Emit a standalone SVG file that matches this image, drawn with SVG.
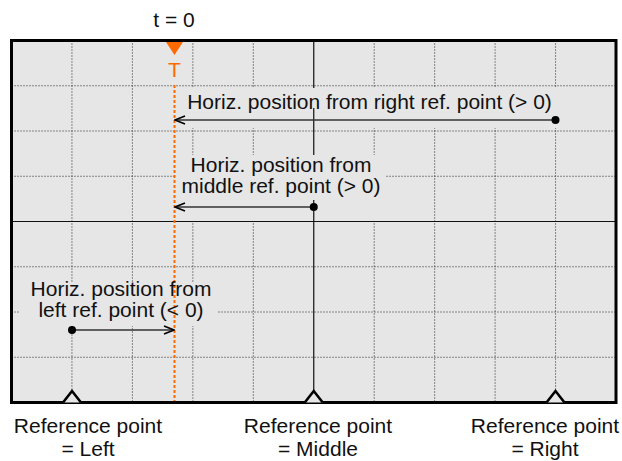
<svg xmlns="http://www.w3.org/2000/svg" width="622" height="461" viewBox="0 0 622 461">
<style>
.t{font-family:"Liberation Sans",Arial,sans-serif;font-size:21px;fill:#111;text-anchor:middle}
.grid{stroke:#222;stroke-width:1;stroke-dasharray:1 2;fill:none}
.axis{stroke:#111;stroke-width:1.2;fill:none}
.bg{fill:#e6e6e6}
.arr{stroke:#333;stroke-width:1.4;fill:none}
.ref{stroke:#000;stroke-width:2.6;fill:#e6e6e6;stroke-linejoin:miter}
</style>
<defs>
<marker id="ah" viewBox="0 0 12 10" refX="11" refY="5" markerWidth="12" markerHeight="10" markerUnits="userSpaceOnUse" orient="auto">
<path d="M1,1 L11,5 L1,9" stroke="#000" stroke-width="1.6" fill="none"/>
</marker>
</defs>
<rect x="11.5" y="40.5" width="604.5" height="362" class="bg"/>
<g id="grid">
<path class="grid" d="M71.95,40.5V402.5M132.4,40.5V402.5M192.85,40.5V402.5M253.3,40.5V402.5M374.2,40.5V402.5M434.65,40.5V402.5M495.1,40.5V402.5M555.55,40.5V402.5"/>
<path class="grid" d="M11.5,85.75H616M11.5,131H616M11.5,176.25H616M11.5,266.75H616M11.5,312H616M11.5,357.25H616"/>
</g>
<g id="label-boxes">
<rect class="bg" x="177" y="88" width="385" height="40"/>
<rect class="bg" x="176" y="155" width="209" height="66"/>
<rect class="bg" x="20" y="282" width="197" height="44"/>
</g>
<g id="axes">
<path class="axis" d="M313.75,40.5V402.5M11.5,221.5H616"/>
</g>
<g id="text-boxes">
<rect class="bg" x="182" y="88" width="376" height="20"/>
<rect class="bg" x="178" y="155" width="206" height="45"/>
</g>
<g id="trigger">
<path d="M174.5,85V402" stroke="#FF6A00" stroke-width="2" stroke-dasharray="3 2" fill="none"/>
<path d="M165,40.5H184L174.5,55Z" fill="#FF6A00"/>
<text class="t" x="174.5" y="77" style="fill:#FF6A00">T</text>
<text class="t" x="174" y="27">t = 0</text>
</g>
<g id="connectors">
<path class="arr" d="M555.5,120H175" marker-end="url(#ah)"/>
<path class="arr" d="M313.75,207H175" marker-end="url(#ah)"/>
<path class="arr" d="M72,330H174" marker-end="url(#ah)"/>
<circle cx="555.5" cy="120" r="4" fill="#000"/>
<circle cx="313.75" cy="207" r="4" fill="#000"/>
<circle cx="72" cy="330" r="4" fill="#000"/>
</g>
<g id="label-right">
<text class="t" x="369.5" y="109">Horiz. position from right ref. point (&gt; 0)</text>
</g>
<g id="label-middle">
<text class="t" x="281" y="172">Horiz. position from</text>
<text class="t" x="281" y="193">middle ref. point (&gt; 0)</text>
</g>
<g id="label-left">
<text class="t" x="121" y="296">Horiz. position from</text>
<text class="t" x="121" y="317">left ref. point (&lt; 0)</text>
</g>
<rect x="11.5" y="40.5" width="604.5" height="362" fill="none" stroke="#000" stroke-width="3"/>
<g id="ref-left">
<path class="ref" d="M63,402.5L72,391L81,402.5"/>
<text class="t" x="88" y="433">Reference point</text>
<text class="t" x="88" y="456">= Left</text>
</g>
<g id="ref-middle">
<path class="ref" d="M304.75,402.5L313.75,391L322.75,402.5"/>
<text class="t" x="318" y="433">Reference point</text>
<text class="t" x="318" y="456">= Middle</text>
</g>
<g id="ref-right">
<path class="ref" d="M546.5,402.5L555.5,391L564.5,402.5"/>
<text class="t" x="545" y="433">Reference point</text>
<text class="t" x="545" y="456">= Right</text>
</g>
</svg>
